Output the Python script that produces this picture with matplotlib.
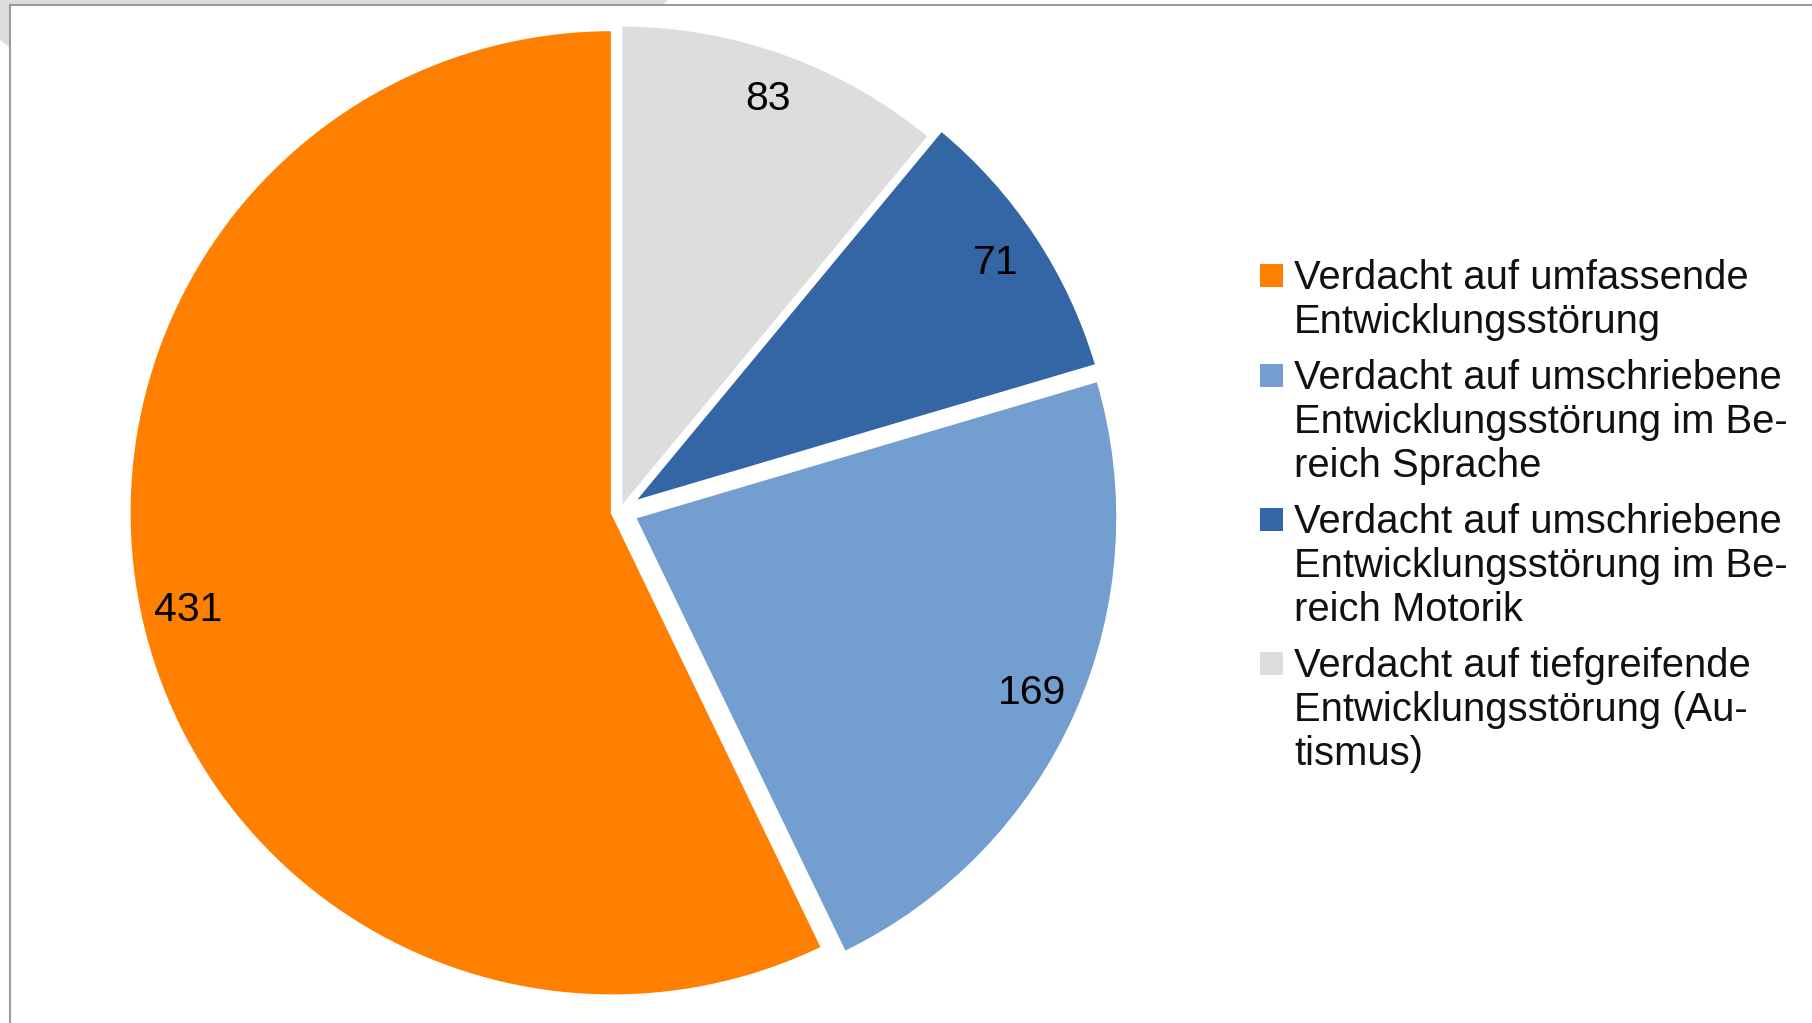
import matplotlib
matplotlib.use("Agg")
import matplotlib.pyplot as plt
from matplotlib.patches import Rectangle, Polygon

plt.rcParams['font.family'] = ['Liberation Sans', 'DejaVu Sans']

# data
categories = [
    "Verdacht auf umfassende Entwicklungsstörung",
    "Verdacht auf umschriebene Entwicklungsstörung im Bereich Sprache",
    "Verdacht auf umschriebene Entwicklungsstörung im Bereich Motorik",
    "Verdacht auf tiefgreifende Entwicklungsstörung (Autismus)",
]
counts = [431, 169, 71, 83]
colors = ["#ff8000", "#729fcf", "#3465a4", "#dddddd"]

# wrapped legend text, as in the original
legend_lines = [
    ["Verdacht auf umfassende", "Entwicklungsstörung"],
    ["Verdacht auf umschriebene", "Entwicklungsstörung im Be-", "reich Sprache"],
    ["Verdacht auf umschriebene", "Entwicklungsstörung im Be-", "reich Motorik"],
    ["Verdacht auf tiefgreifende", "Entwicklungsstörung (Au-", "tismus)"],
]

W, H = 1812, 1023
fig = plt.figure(figsize=(W / 100, H / 100), dpi=100)
ax = fig.add_axes([0, 0, 1, 1])

total = sum(counts)
wedges, texts, autotexts = ax.pie(
    counts,
    colors=colors,
    startangle=90,
    counterclock=True,
    radius=483,
    center=(620, H - 511),
    explode=[8, 16, 16, 3],
    autopct=lambda p: f"{round(p * total / 100)}",
    pctdistance=0.9,
    wedgeprops=dict(edgecolor="white", linewidth=2),
    textprops=dict(fontsize=29.5, color="black"),
)

ax.set_xlim(0, W)
ax.set_ylim(0, H)
ax.set_aspect("equal")
ax.axis("off")

# window frame / shadow at the top-left
ax.add_patch(Polygon([(0, H), (668, H), (662, H - 5), (9, H - 5), (9, H - 47), (0, H - 40)],
                     closed=True, facecolor="#dcdcdc", edgecolor="none"))
ax.plot([9, W], [H - 5, H - 5], color="#9c9c9c", lw=1.5, solid_capstyle="butt")
ax.plot([9.5, 9.5], [0, H - 5], color="#9c9c9c", lw=1.5, solid_capstyle="butt")

# legend drawn by hand so the square sits next to the first line
line_step = 44
entry_step = 56
y = 289  # baseline of first line (image coords)
for col, lines in zip(colors, legend_lines):
    ax.add_patch(Rectangle((1260, H - (y - 2)), 23, 23, facecolor=col, edgecolor="none"))
    for k, txt in enumerate(lines):
        ax.text(1294, H - (y + k * line_step), txt, fontsize=28.8, color="#111111",
                va="baseline", ha="left")
    y += line_step * (len(lines) - 1) + entry_step

fig.savefig("out.png", dpi=100)
